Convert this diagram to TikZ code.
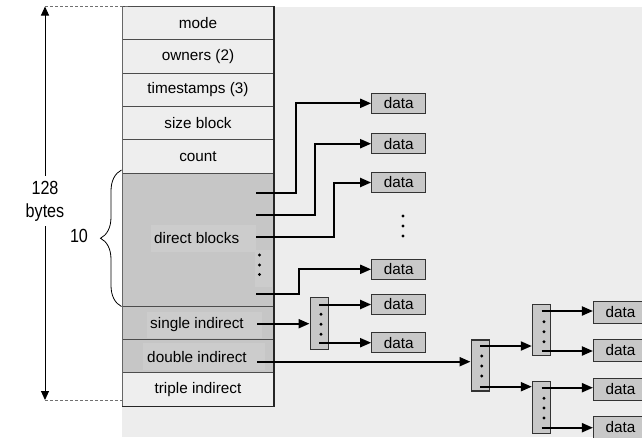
\documentclass[tikz,border=0pt]{standalone}
\usepackage{fontspec}
\setmainfont{Liberation Sans}
\usetikzlibrary{arrows.meta,decorations.pathreplacing,calc}
\definecolor{panel}{HTML}{EDEDED}
\definecolor{rowlight}{HTML}{EEEEEE}
\definecolor{rowdark}{HTML}{C6C6C6}
\definecolor{labelbg}{HTML}{CCCCCC}
\definecolor{blockfill}{HTML}{C8C8C8}
\definecolor{dashgray}{HTML}{707070}
\newcommand{\narrow}[1]{\scalebox{0.85}[1]{#1}}
\begin{document}
\begin{tikzpicture}[x=1pt,y=-1pt,
  font=\fontsize{15.3}{18}\selectfont,
  row/.style={draw=black!70, line width=1pt, minimum width=150.4pt,
    inner sep=0pt, anchor=north west},
  lightrow/.style={row, fill=rowlight, minimum height=33.3pt},
  darkrow/.style={row, fill=rowdark, minimum height=33.3pt},
  txt/.style={inner sep=0pt},
  big/.style={font=\fontsize{19}{22.7}\selectfont, align=center},
  tip/.style={-{Triangle[length=11pt,width=9pt]}},
  conn/.style={line width=2pt, tip},
  databox/.style={draw=black!80, line width=1.1pt, fill=blockfill,
    minimum width=54pt, minimum height=20pt, inner sep=0pt},
  ptrblock/.style={draw=black!80, line width=1.1pt, fill=blockfill,
    minimum width=18.3pt, inner sep=0pt},
  dot/.style={fill=black},
  guide/.style={draw=dashgray, line width=0.9pt, dash pattern=on 3pt off 2pt}]

\useasboundingbox (0,0) rectangle (642,437);
\clip (0,0) rectangle (642,437);

% grey panel behind the inode and its blocks
\fill[panel] (122.3,6.7) rectangle (642,437);

% inode rows
\node[lightrow] (mode)   at (122.3,6)     {mode};
\node[lightrow] (owners) at (122.3,39.3)  {owners (2)};
\node[lightrow] (times)  at (122.3,72.6)  {timestamps (3)};
\node[lightrow] (size)   at (122.3,105.9) {size block};
\node[lightrow] (count)  at (122.3,139.2) {count};
\node[row, fill=rowdark, minimum height=133.2pt] (direct) at (122.3,172.5) {};
\node[darkrow]  (single) at (122.3,305.7) {};
\node[darkrow]  (double) at (122.3,339)   {};
\node[lightrow] (triple) at (122.3,372.3) {triple indirect};

% label patches inside the grey rows
\fill[labelbg] (151,225) rectangle (256,251.7);
\fill[labelbg] (255,250) rectangle (271.7,287);
\fill[labelbg] (146.7,311.7) rectangle (261.7,337.7);
\fill[labelbg] (143.3,343) rectangle (265,370);
\node[txt] (directtxt) at (196.7,238) {direct blocks};
\node[txt] (singletxt) at (197,324.5) {single indirect};
\node[txt] (doubletxt) at (197,357)   {double indirect};
\foreach \yy in {255,265,274.5} \fill[dot] (259.5,\yy) circle (1.6pt);

% table outline
\draw[black!60, line width=0.9pt] (mode.north west) -- (triple.south west);
\draw[black!85, line width=1.6pt] (mode.north east) -- (triple.south east) -- (triple.south west);

% size arrow and guides
\coordinate (topg) at (45,6.5);
\coordinate (botg) at (45,400);
\draw[guide] (topg) -- (130,6.5);
\draw[guide] (botg) -- (122.3,400);
\draw[line width=1pt, {Triangle[length=9pt,width=8pt]}-{Triangle[length=9pt,width=8pt]}] (topg) -- (botg);
\node[big, fill=white, inner xsep=2pt, inner ysep=5pt] (bytes) at (45,201) {\narrow{128}\\\narrow{bytes}};

% brace over the direct blocks
\draw[line width=0.8pt, decorate, decoration={brace, amplitude=21pt}] (121.5,306.5) -- (121.5,170);
\node[big] (ten) at (79,236) {\narrow{10}};

% data blocks reached directly
\node[databox] (data1) at (398.7,103.3) {data};
\node[databox] (data2) at (398.7,143.7) {data};
\node[databox] (data3) at (398.7,182.5) {data};
\node[databox] (data4) at (398.7,269.3) {data};
\node[databox] (data5) at (398.7,304.5) {data};
\node[databox] (data6) at (398.7,342.7) {data};
\foreach \yy in {216,226,236} \fill[dot] (403,\yy) circle (1.6pt);

\coordinate (s1) at (256,193.3);
\coordinate (s2) at (256,215);
\coordinate (s3) at (256,236.5);
\coordinate (s4) at (256,294);
\coordinate (j1) at (296,103.3);
\coordinate (j2) at (315,143.7);
\coordinate (j3) at (334,182.5);
\coordinate (j4) at (299,269.3);
\draw[conn] (s1) -| (j1) -- (data1.west);
\draw[conn] (s2) -| (j2) -- (data2.west);
\draw[conn] (s3) -| (j3) -- (data3.west);
\draw[conn] (s4) -| (j4) -- (data4.west);

% single indirect block
\node[ptrblock, minimum height=52pt] (ib1) at (319.2,323.3) {};
\coordinate (si) at (257,323.7);
\draw[conn] (si) -- (si -| ib1.west);
\coordinate (ib1a) at (319,304.5);
\coordinate (ib1b) at (319,342.7);
\draw[conn] (ib1a) -- (ib1a -| data5.west);
\draw[conn] (ib1b) -- (ib1b -| data6.west);
\foreach \yy in {314.3,324.3,334.3} \fill[dot] (321,\yy) circle (1.6pt);

% double indirect blocks
\node[ptrblock, minimum height=51pt]   (db1) at (480.2,365.5) {};
\node[ptrblock, minimum height=51.4pt] (db2) at (541.5,330)   {};
\node[ptrblock, minimum height=51.6pt] (db3) at (541.5,407.5) {};
\coordinate (di) at (257,361.7);
\draw[conn] (di) -- (di -| db1.west);
\coordinate (db1a) at (480,346);
\coordinate (db1b) at (480,386.7);
\draw[conn] (db1a) -- (db1a -| db2.west);
\draw[conn] (db1b) -- (db1b -| db3.west);
\foreach \yy in {356,366,376} \fill[dot] (481.7,\yy) circle (1.6pt);
\foreach \yy in {321.7,331.7,341.7} \fill[dot] (544,\yy) circle (1.6pt);
\foreach \yy in {398.3,408,418} \fill[dot] (544,\yy) circle (1.6pt);

\node[databox, minimum height=22pt] (data7)  at (620.5,312.5) {data};
\node[databox, minimum height=22pt] (data8)  at (620.5,350.5) {data};
\node[databox, minimum height=22pt] (data9)  at (620.5,389.5) {data};
\node[databox, minimum height=22pt] (data10) at (620.5,427.5) {data};
\coordinate (db2a) at (541.7,311);
\coordinate (db2b) at (541.7,351);
\coordinate (db3a) at (541.7,387.7);
\coordinate (db3b) at (541.7,427.7);
\draw[conn] (db2a) -- (db2a -| data7.west);
\draw[conn] (db2b) -- (db2b -| data8.west);
\draw[conn] (db3a) -- (db3a -| data9.west);
\draw[conn] (db3b) -- (db3b -| data10.west);
\end{tikzpicture}
\end{document}
